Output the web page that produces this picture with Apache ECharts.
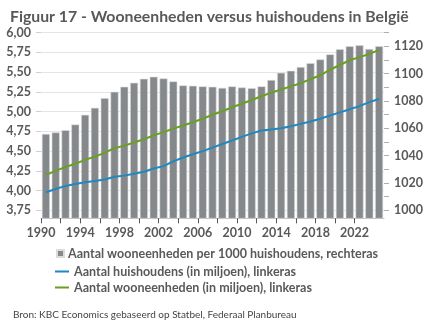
<!DOCTYPE html>
<html><head><meta charset="utf-8">
<script src="https://cdn.jsdelivr.net/npm/echarts@6/dist/echarts.min.js"></script>
<style>html,body{margin:0;padding:0;background:#fff}#c{width:429px;height:325px}</style>
</head><body><div id="c"></div>
<script>
const years = [1990,1991,1992,1993,1994,1995,1996,1997,1998,1999,2000,2001,2002,2003,2004,2005,2006,2007,2008,2009,2010,2011,2012,2013,2014,2015,2016,2017,2018,2019,2020,2021,2022,2023,2024];
const unitsPer1000 = [1055.9,1057.0,1058.6,1062.8,1069.9,1075.0,1082.1,1086.7,1090.4,1093.3,1096.2,1097.7,1096.5,1094.3,1091.4,1091.1,1090.7,1090.4,1089.6,1090.7,1089.9,1089.4,1090.7,1095.3,1100.6,1102.1,1104.8,1107.7,1110.4,1114.1,1117.8,1120.0,1120.7,1118.0,1120.0];
const households = [3.98,4.02,4.06,4.085,4.105,4.122,4.14,4.175,4.19,4.215,4.24,4.28,4.31,4.37,4.42,4.46,4.50,4.545,4.59,4.635,4.68,4.725,4.76,4.775,4.79,4.815,4.845,4.875,4.91,4.95,4.99,5.03,5.07,5.12,5.16];
const dwellings = [4.20,4.25,4.30,4.34,4.39,4.43,4.48,4.537,4.57,4.61,4.65,4.70,4.74,4.785,4.825,4.866,4.91,4.96,5.005,5.055,5.10,5.147,5.195,5.24,5.28,5.32,5.36,5.41,5.46,5.53,5.59,5.65,5.69,5.73,5.78];
const xTickLabels = ['1990','1994','1998','2002','2006','2010','2014','2018','2022'];
const leftTickLabels = ['3,75','4,00','4,25','4,50','4,75','5,00','5,25','5,50','5,75','6,00'];
const rightTickLabels = ['1000','1020','1040','1060','1080','1100','1120'];
const rightMinorTicks = [1000,1010,1020,1030,1040,1050,1060,1070,1080,1090,1100,1110,1120,1130];

const txt = '#58595b';
const font = 'Lato';
const leftVals = leftTickLabels.map(s => parseFloat(s.replace(',', '.')));
const rightVals = rightTickLabels.map(Number);
const xLabelPos = xTickLabels.map(s => Number(s) - 0.5);
const xTickPos = years.filter((y, i) => i % 2 === 0 && i < years.length - 1).map(y => y - 0.5);

const chart = echarts.init(document.getElementById('c'), null, {renderer: 'canvas'});
chart.setOption({
  animation: false,
  textStyle: {fontFamily: font},
  title: [
    {text: 'Figuur 17 - Wooneenheden versus huishoudens in België', left: 5, top: 4,
     textStyle: {fontFamily: font, fontSize: 15.8, fontWeight: 'bold', color: txt}},
    {text: 'Bron: KBC Economics gebaseerd op Statbel, Federaal Planbureau', left: 8, top: 305,
     textStyle: {fontFamily: font, fontSize: 10, fontWeight: 'normal', color: '#444'}}
  ],
  grid: {left: 41, right: 45, top: 32.6, bottom: 106.7, containLabel: false},
  legend: [
    {data: [{name: 'Aantal wooneenheden per 1000 huishoudens, rechteras', icon: 'rect'}],
     left: 51, top: 242, itemWidth: 7, itemHeight: 7, itemGap: 4,
     textStyle: {fontFamily: font, fontSize: 12.5, fontWeight: 'bold', color: txt, padding: [0,0,0,-1]}},
    {data: ['Aantal huishoudens (in miljoen), linkeras', 'Aantal wooneenheden (in miljoen), linkeras'],
     orient: 'vertical', left: 49, top: 260, itemWidth: 14, itemHeight: 2, itemGap: 3,
     textStyle: {fontFamily: font, fontSize: 12.5, fontWeight: 'bold', color: txt}}
  ],
  xAxis: {
    type: 'value', min: 1989.5, max: 2024.5,
    axisLine: {show: true, lineStyle: {color: '#bfbfbf', width: 1}},
    axisTick: {show: true, length: 5, customValues: xTickPos, lineStyle: {color: '#555'}},
    axisLabel: {customValues: xLabelPos, formatter: v => String(Math.round(v + 0.5)),
      fontFamily: font, fontSize: 12.5, fontWeight: 'bold', color: txt, margin: 8},
    splitLine: {show: false}
  },
  yAxis: [
    {type: 'value', min: 3.65, max: 6.0, position: 'left',
     axisLine: {show: false},
     axisTick: {show: true, length: 5, customValues: leftVals, lineStyle: {color: '#d0d0d0'}},
     axisLabel: {customValues: leftVals, formatter: v => v.toFixed(2).replace('.', ','),
       fontFamily: font, fontSize: 12.5, fontWeight: 'bold', color: txt, margin: 10},
     splitLine: {show: true, lineStyle: {color: '#e4e4e4', width: 1}}},
    {type: 'value', min: 994.2, max: 1130, position: 'right',
     axisLine: {show: false},
     axisTick: {show: true, length: 5, customValues: rightMinorTicks, lineStyle: {color: '#b0b0b0'}},
     axisLabel: {customValues: rightVals, formatter: v => String(Math.round(v)),
       fontFamily: font, fontSize: 12.5, fontWeight: 'bold', color: txt, margin: 10},
     splitLine: {show: false}}
  ],
  series: [
    {name: 'Aantal wooneenheden per 1000 huishoudens, rechteras', type: 'bar', yAxisIndex: 1,
     data: years.map((y, i) => [y, unitsPer1000[i]]), barWidth: 8,
     itemStyle: {color: '#86898c', borderColor: '#dcdcdc', borderWidth: 0.6}},
    {name: 'Aantal huishoudens (in miljoen), linkeras', type: 'line', yAxisIndex: 0,
     data: years.map((y, i) => [y, households[i]]), symbol: 'none',
     lineStyle: {color: '#1f88c0', width: 2}, itemStyle: {color: '#1f88c0'}},
    {name: 'Aantal wooneenheden (in miljoen), linkeras', type: 'line', yAxisIndex: 0,
     data: years.map((y, i) => [y, dwellings[i]]), symbol: 'none',
     lineStyle: {color: '#6a9f24', width: 2}, itemStyle: {color: '#6a9f24'}}
  ]
});
</script></body></html>
